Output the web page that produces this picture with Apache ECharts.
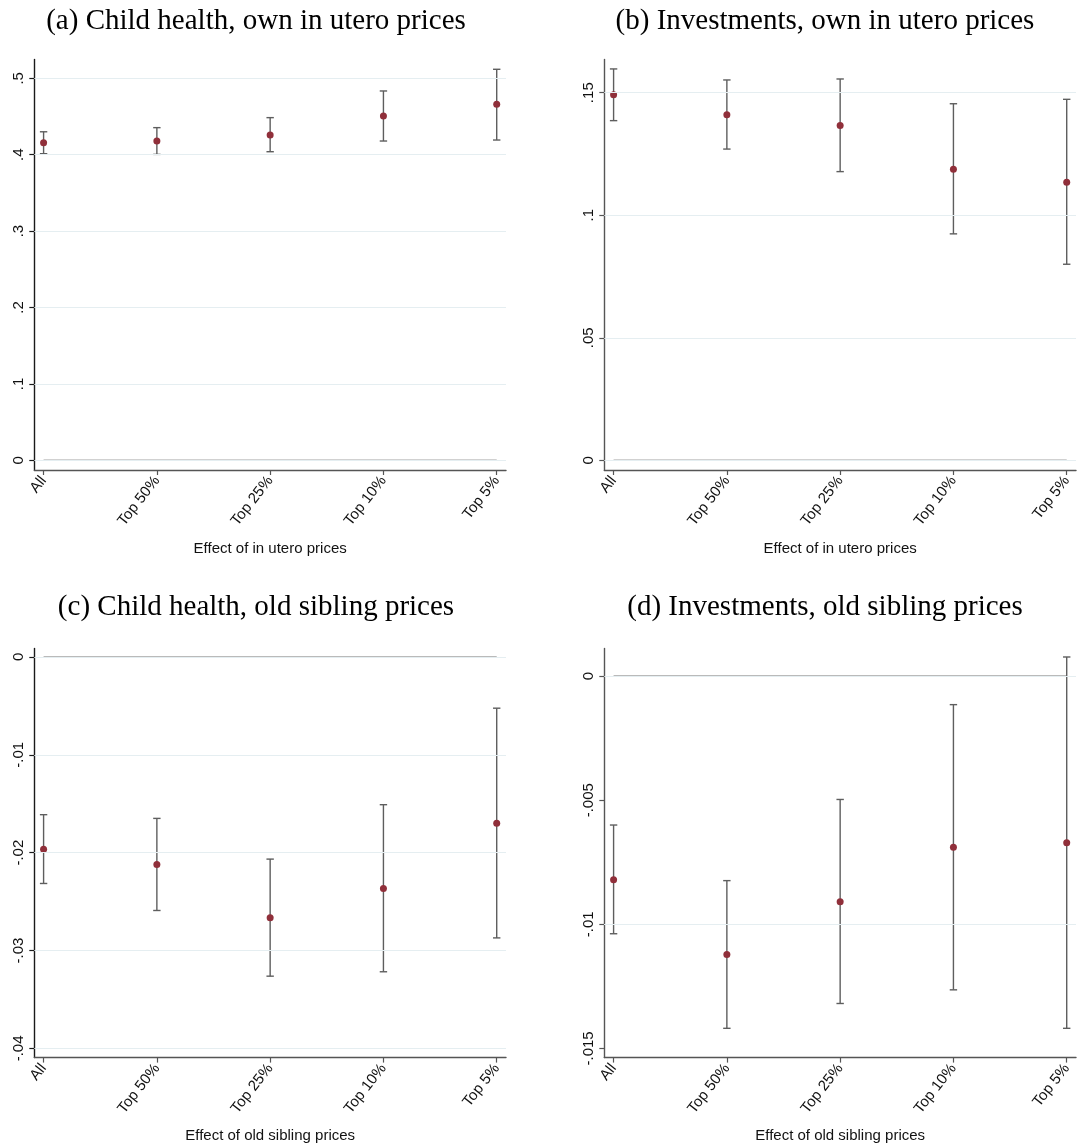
<!DOCTYPE html>
<html><head><meta charset="utf-8">
<script src="https://cdn.jsdelivr.net/npm/echarts@6/dist/echarts.min.js"></script>
<style>html,body{margin:0;padding:0;background:#fff}#c{width:1081px;height:1147px}</style>
</head><body><div id="c"></div>
<script>
// ---- data ----
const categories = ['All', 'Top 50%', 'Top 25%', 'Top 10%', 'Top 5%'];

const healthUteroEst = [0.4157, 0.4180, 0.4258, 0.4507, 0.4659];
const healthUteroLo  = [0.4013, 0.4004, 0.4039, 0.4179, 0.4192];
const healthUteroHi  = [0.4300, 0.4354, 0.4485, 0.4834, 0.5118];

const investUteroEst = [0.1492, 0.1410, 0.1366, 0.1188, 0.1135];
const investUteroLo  = [0.1386, 0.1270, 0.1178, 0.0924, 0.0800];
const investUteroHi  = [0.1597, 0.1552, 0.1556, 0.1455, 0.1473];

const healthSibEst = [-0.01965, -0.02122, -0.02664, -0.02367, -0.01699];
const healthSibLo  = [-0.02315, -0.02591, -0.03262, -0.03217, -0.02871];
const healthSibHi  = [-0.01612, -0.01650, -0.02066, -0.01510, -0.00524];

const investSibEst = [-0.00820, -0.01122, -0.00909, -0.00690, -0.00671];
const investSibLo  = [-0.01038, -0.01419, -0.01319, -0.01264, -0.01419];
const investSibHi  = [-0.00600, -0.00824, -0.00497, -0.00115, 0.00077];

const ticksA = [0, 0.1, 0.2, 0.3, 0.4, 0.5];
const tickLabelsA = ['0', '.1', '.2', '.3', '.4', '.5'];
const ticksB = [0, 0.05, 0.1, 0.15];
const tickLabelsB = ['0', '.05', '.1', '.15'];
const ticksC = [0, -0.01, -0.02, -0.03, -0.04];
const tickLabelsC = ['0', '-.01', '-.02', '-.03', '-.04'];
const ticksD = [0, -0.005, -0.01, -0.015];
const tickLabelsD = ['0', '-.005', '-.01', '-.015'];

const titles = [
  '(a) Child health, own in utero prices',
  '(b) Investments, own in utero prices',
  '(c) Child health, old sibling prices',
  '(d) Investments, old sibling prices'
];
const xTitles = ['Effect of in utero prices', 'Effect of in utero prices',
                 'Effect of old sibling prices', 'Effect of old sibling prices'];

// ---- layout ----
const panels = [
  {est: healthUteroEst, lo: healthUteroLo, hi: healthUteroHi, ticks: ticksA, labels: tickLabelsA,
   left: 34.3, top: 59.5, height: 410.5, min: -0.0127, max: 0.5246, tx: 256, ty: 6.5, yc: '#1a1a1a'},
  {est: investUteroEst, lo: investUteroLo, hi: investUteroHi, ticks: ticksB, labels: tickLabelsB,
   left: 604.3, top: 59.5, height: 410.5, min: -0.00396, max: 0.16355, tx: 825, ty: 6.5, yc: '#555'},
  {est: healthSibEst, lo: healthSibLo, hi: healthSibHi, ticks: ticksC, labels: tickLabelsC,
   left: 34.3, top: 648.4, height: 409.2, min: -0.04094, max: 0.000868, tx: 256, ty: 593, yc: '#1a1a1a'},
  {est: investSibEst, lo: investSibLo, hi: investSibHi, ticks: ticksD, labels: tickLabelsD,
   left: 604.3, top: 648.4, height: 409.2, min: -0.01537, max: 0.001116, tx: 825, ty: 593, yc: '#555'}
];
const catIdx = categories.map((c, i) => i);

const option = {
  animation: false,
  backgroundColor: '#fff',
  title: [], grid: [], xAxis: [], yAxis: [], series: []
};

panels.forEach((p, i) => {
  option.title.push({
    text: titles[i], left: p.tx, top: p.ty, textAlign: 'center', padding: 0,
    textStyle: {fontFamily: 'Liberation Serif', fontSize: 29, fontWeight: 'normal', color: '#000'}
  });
  option.grid.push({left: p.left, top: p.top, width: 471.7, height: p.height, containLabel: false});
  option.xAxis.push({
    type: 'value', gridIndex: i, min: -0.082, max: 4.082,
    name: xTitles[i], nameLocation: 'middle', nameGap: 71,
    nameTextStyle: {fontFamily: 'Liberation Sans', fontSize: 15, color: '#111'},
    axisLine: {show: true, onZero: false, lineStyle: {color: '#555', width: 1.4}},
    axisTick: {show: true, customValues: catIdx, length: 5, lineStyle: {color: '#555', width: 1.2}},
    axisLabel: {customValues: catIdx, rotate: 52, margin: 8,
      formatter: v => categories[Math.round(v)],
      fontFamily: 'Liberation Sans', fontSize: 15, color: '#111'},
    splitLine: {show: false}
  });
  option.yAxis.push({
    type: 'value', gridIndex: i, min: p.min, max: p.max,
    axisLine: {show: true, onZero: false, lineStyle: {color: p.yc, width: 1.4}},
    axisTick: {show: true, customValues: p.ticks, length: 5, lineStyle: {color: p.yc, width: 1.2}},
    axisLabel: {customValues: p.ticks, rotate: 90, margin: 8,
      formatter: v => {
        let best = 0;
        p.ticks.forEach((t, k) => { if (Math.abs(t - v) < Math.abs(p.ticks[best] - v)) best = k; });
        return p.labels[best];
      },
      fontFamily: 'Liberation Sans', fontSize: 15, color: '#111'},
    splitLine: {show: false}
  });
  // gridlines
  option.series.push({
    type: 'line', xAxisIndex: i, yAxisIndex: i, data: [], silent: true, z: 1,
    markLine: {silent: true, symbol: ['none', 'none'], label: {show: false},
      lineStyle: {color: '#e5eef1', width: 1.2, type: 'solid'},
      data: p.ticks.map(t => ({yAxis: t}))}
  });
  // zero reference line
  option.series.push({
    type: 'line', xAxisIndex: i, yAxisIndex: i, silent: true, z: 2,
    data: [[0, 0], [categories.length - 1, 0]], symbol: 'none',
    lineStyle: {color: '#a3a3a3', width: 1.5}
  });
  // error bars
  option.series.push({
    type: 'custom', xAxisIndex: i, yAxisIndex: i, z: 3, silent: true,
    data: catIdx.map(j => [j, p.lo[j], p.hi[j]]),
    encode: {x: 0, y: [1, 2]},
    renderItem: (params, api) => {
      const x = api.value(0);
      const a = api.coord([x, api.value(1)]);
      const b = api.coord([x, api.value(2)]);
      const w = 3.7;
      const st = {stroke: '#5e5e5e', lineWidth: 1.4};
      return {type: 'group', children: [
        {type: 'line', shape: {x1: a[0], y1: a[1], x2: b[0], y2: b[1]}, style: st},
        {type: 'line', shape: {x1: a[0] - w, y1: a[1], x2: a[0] + w, y2: a[1]}, style: st},
        {type: 'line', shape: {x1: b[0] - w, y1: b[1], x2: b[0] + w, y2: b[1]}, style: st}
      ]};
    }
  });
  // point estimates
  option.series.push({
    type: 'scatter', xAxisIndex: i, yAxisIndex: i, z: 4, silent: true,
    data: catIdx.map(j => [j, p.est[j]]),
    symbol: 'circle', symbolSize: 7,
    itemStyle: {color: '#902f3a', opacity: 1}
  });
});

const chart = echarts.init(document.getElementById('c'), null, {renderer: 'canvas'});
chart.setOption(option);
</script>
</body></html>
